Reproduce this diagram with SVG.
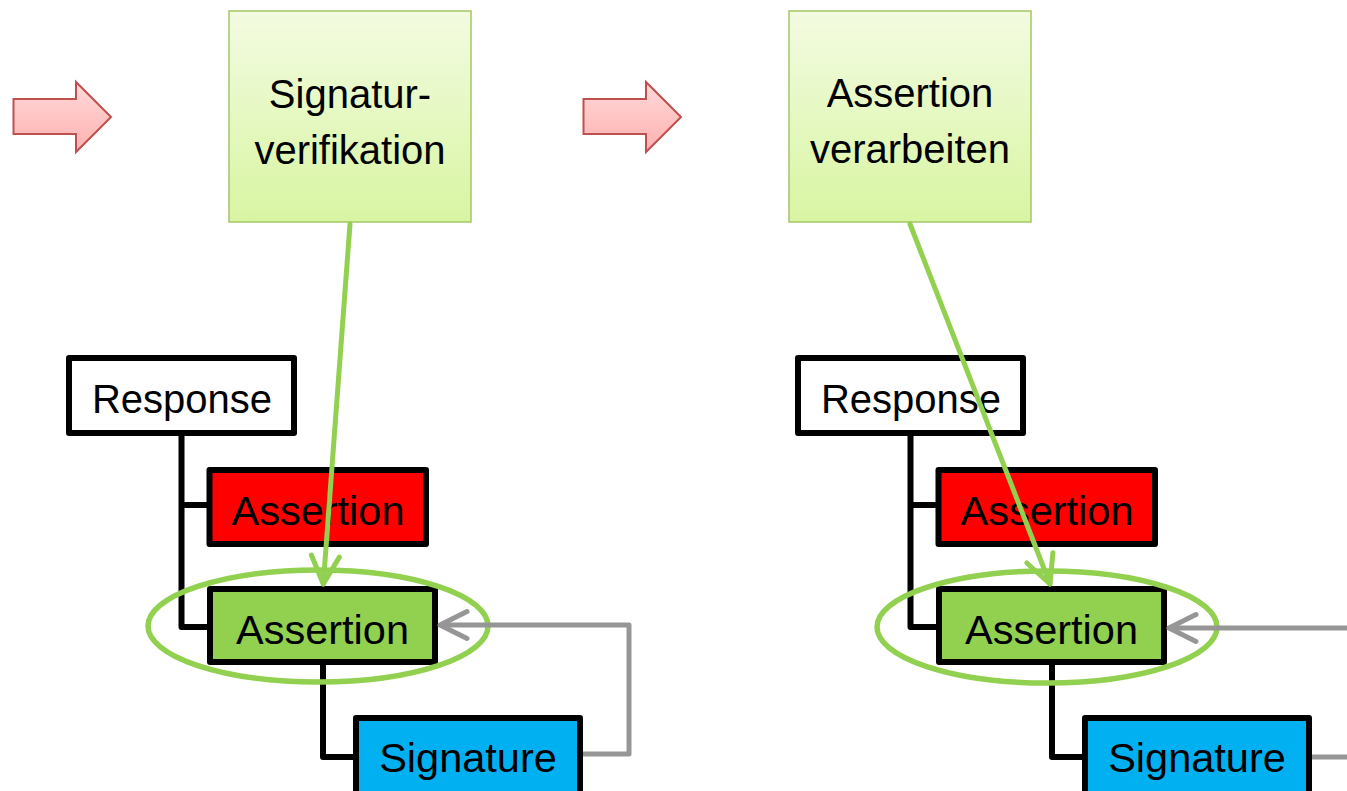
<svg xmlns="http://www.w3.org/2000/svg" width="1347" height="791" viewBox="0 0 1347 791">
  <defs>
    <linearGradient id="stepFill" x1="0" y1="0" x2="0" y2="1">
      <stop offset="0" stop-color="#F3FBE1"/>
      <stop offset="1" stop-color="#D8F5A2"/>
    </linearGradient>
    <linearGradient id="flowFill" x1="0" y1="0" x2="0" y2="1">
      <stop offset="0" stop-color="#FFDADA"/>
      <stop offset="1" stop-color="#FFB0B0"/>
    </linearGradient>
    <marker id="headGreen" markerUnits="userSpaceOnUse" markerWidth="40" markerHeight="40" viewBox="-34 -20 40 40" refX="0" refY="0" orient="auto" overflow="visible">
      <path d="M-28,-14 L0,0 L-28,14" fill="none" stroke="#92D050" stroke-width="5" stroke-linecap="round" stroke-linejoin="round"/>
    </marker>
    <marker id="headGray" markerUnits="userSpaceOnUse" markerWidth="40" markerHeight="40" viewBox="-34 -20 40 40" refX="0" refY="0" orient="auto" overflow="visible">
      <path d="M-27,-13.5 L0,0 L-27,13.5" fill="none" stroke="#969696" stroke-width="5" stroke-linecap="round" stroke-linejoin="round"/>
    </marker>
  </defs>
  <style>
    text { font-family: "Liberation Sans", Arial, sans-serif; font-size: 40px; fill: #000; text-anchor: middle; }
    text.lbl { font-size: 41.5px; }
    .step { fill: url(#stepFill); stroke: #A3C765; stroke-width: 1.5; }
    .flow { fill: url(#flowFill); stroke: #C0504D; stroke-width: 2; stroke-linejoin: miter; }
    .box { stroke: #000; stroke-width: 6; stroke-linejoin: round; }
    .tree { fill: none; stroke: #000; stroke-width: 6; stroke-linejoin: round; }
    .white { fill: #FFFFFF; }
    .red { fill: #FF0000; }
    .green { fill: #92D050; }
    .blue { fill: #00B0F0; }
    .focus { fill: none; stroke: #92D050; stroke-width: 5.5; }
    .pointer { fill: none; stroke: #92D050; stroke-width: 5; stroke-linecap: round; marker-end: url(#headGreen); }
    .ref { fill: none; stroke: #969696; stroke-width: 5; stroke-linejoin: round; }
  </style>

  <rect width="1347" height="791" fill="#FFFFFF"/>

  <!-- flow arrows -->
  <g id="flow-1">
    <polygon class="flow" points="13.5,99 76,99 76,82 111,117 76,152 76,134 13.5,134"/>
  </g>
  <g id="flow-2">
    <polygon class="flow" points="583.5,99 646,99 646,82 681,117 646,152 646,134 583.5,134"/>
  </g>

  <!-- processing steps -->
  <g id="step-verify">
    <rect class="step" x="229" y="11" width="242" height="211"/>
    <text x="350" y="108">Signatur-</text>
    <text x="350" y="164">verifikation</text>
  </g>
  <g id="step-process">
    <rect class="step" x="789" y="11" width="242" height="211"/>
    <text x="910" y="107">Assertion</text>
    <text x="910" y="163">verarbeiten</text>
  </g>

  <!-- tree edges -->
  <g id="connectors">
    <path class="tree" d="M181.5,433 V627 H210 M181.5,505 H210"/>
    <path class="tree" d="M323,665 V757 H356"/>
    <path class="tree" d="M910.5,433 V627 H939 M910.5,505 H939"/>
    <path class="tree" d="M1052,665 V757 H1085"/>
  </g>

  <!-- left tree -->
  <g id="response-1">
    <rect class="box white" x="69" y="358" width="225" height="75"/>
    <text x="182" y="413">Response</text>
  </g>
  <g id="assertion-evil-1">
    <rect class="box red" x="209.5" y="470" width="216.5" height="74"/>
    <text class="lbl" x="318" y="525">Assertion</text>
  </g>
  <g id="assertion-signed-1">
    <rect class="box green" x="210" y="589" width="225" height="73"/>
    <text class="lbl" x="322.5" y="644">Assertion</text>
  </g>
  <g id="signature-1">
    <rect class="box blue" x="356" y="718" width="224" height="90"/>
    <text class="lbl" x="468" y="772">Signature</text>
  </g>

  <!-- right tree -->
  <g id="response-2">
    <rect class="box white" x="798" y="358" width="225" height="75"/>
    <text x="911" y="413">Response</text>
  </g>
  <g id="assertion-evil-2">
    <rect class="box red" x="938.5" y="470" width="216.5" height="74"/>
    <text class="lbl" x="1047" y="525">Assertion</text>
  </g>
  <g id="assertion-signed-2">
    <rect class="box green" x="939" y="589" width="225" height="73"/>
    <text class="lbl" x="1051.5" y="644">Assertion</text>
  </g>
  <g id="signature-2">
    <rect class="box blue" x="1085" y="718" width="224" height="90"/>
    <text class="lbl" x="1197" y="772">Signature</text>
  </g>

  <!-- highlight rings -->
  <g id="focus-1">
    <ellipse class="focus" cx="318" cy="626" rx="170" ry="56"/>
  </g>
  <g id="focus-2">
    <ellipse class="focus" cx="1047" cy="627" rx="170" ry="56"/>
  </g>

  <!-- step pointers and signature references -->
  <g id="references">
    <path class="pointer" d="M350,224 L323.3,584"/>
    <path class="pointer" d="M910,224 L1050,584"/>
    <path class="ref" d="M583,754 H629 V625 H440" marker-end="url(#headGray)"/>
    <path class="ref" d="M1350,628 H1169" marker-end="url(#headGray)"/>
    <path class="ref" d="M1312,757 H1350"/>
  </g>
</svg>
